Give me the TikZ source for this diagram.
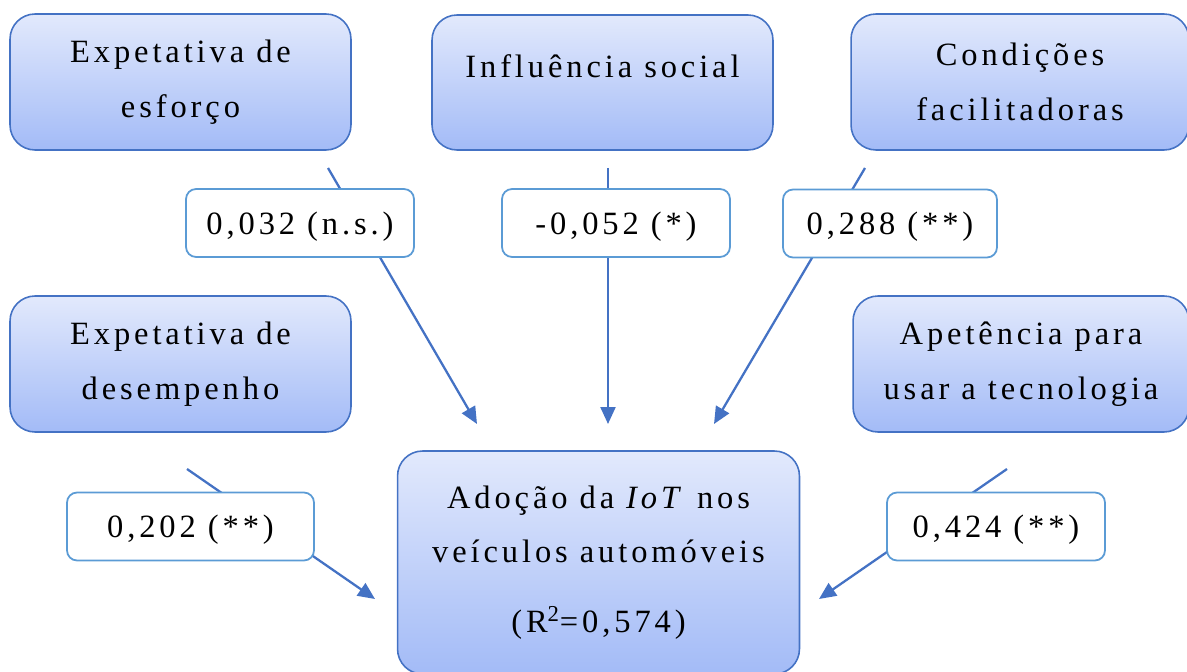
\documentclass[tikz,border=0pt]{standalone}
\usepackage{fontspec}
\setmainfont[LetterSpace=12]{Liberation Serif}
\usetikzlibrary{arrows.meta}
\definecolor{boxline}{RGB}{68,114,196}
\definecolor{lblline}{RGB}{91,155,213}
\definecolor{boxtop}{RGB}{226,233,252}
\definecolor{boxbottom}{RGB}{163,187,247}
\begin{document}
\begin{tikzpicture}[x=0.02cm, y=-0.02cm,
    fator/.style={draw=boxline, line width=0.9pt, rounded corners=0.5cm, top color=boxtop, bottom color=boxbottom, align=center, inner sep=0pt, font=\fontsize{18.5}{31}\selectfont},
    coef/.style={draw=lblline, line width=1pt, rounded corners=0.2cm, fill=white, align=center, inner sep=0pt, minimum height=1.36cm, text height=16.3pt, text depth=3.4pt, font=\fontsize{18.5}{31}\selectfont},
    seta/.style={draw=boxline, line width=1.3pt, -{Triangle[length=0.34cm, width=0.3cm]}}]
    \useasboundingbox (0,0) rectangle (1187,672);

    % fatores
    \node[fator, minimum width=6.82cm, minimum height=2.72cm] (esforco) at (180.5,82) {Expetativa de\\esforço};
    \node[fator, minimum width=6.82cm, minimum height=2.7cm, text depth=19pt] (social) at (602.5,82.5) {Influência social};
    \node[fator, minimum width=6.76cm, minimum height=2.72cm] (condicoes) at (1020,82) {Condições\\facilitadoras};
    \node[fator, minimum width=6.82cm, minimum height=2.72cm] (desempenho) at (180.5,364) {Expetativa de\\desempenho};
    \node[fator, minimum width=6.72cm, minimum height=2.72cm] (apetencia) at (1021,364) {Apetência para\\usar a tecnologia};
    \node[fator, minimum width=8.04cm, minimum height=4.46cm] (adocao) at (598.5,562.5) {Adoção da \textit{IoT} nos\\veículos automóveis\\[8.5pt](R\textsuperscript{2}=0,574)};

    % setas
    \coordinate (e1) at (328,168);  \coordinate (t1) at (477,424);
    \coordinate (e2) at (608,168);  \coordinate (t2) at (608,424);
    \coordinate (e3) at (865,168);  \coordinate (t3) at (714,424);
    \coordinate (e4) at (187,469);  \coordinate (t4) at (375,599);
    \coordinate (e5) at (1007,469); \coordinate (t5) at (819,599);
    \foreach \i in {1,...,5}
        \draw[seta] (e\i) -- (t\i);

    % coeficientes
    \node[coef, minimum width=4.56cm] (c1) at (300,223) {0,032 (n.s.)};
    \node[coef, minimum width=4.56cm] (c2) at (616,223) {-0,052 (*)};
    \node[coef, minimum width=4.28cm] (c3) at (890,223.5) {0,288 (**)};
    \node[coef, minimum width=4.94cm] (c4) at (190.5,526.5) {0,202 (**)};
    \node[coef, minimum width=4.36cm] (c5) at (996,526.5) {0,424 (**)};
\end{tikzpicture}
\end{document}
